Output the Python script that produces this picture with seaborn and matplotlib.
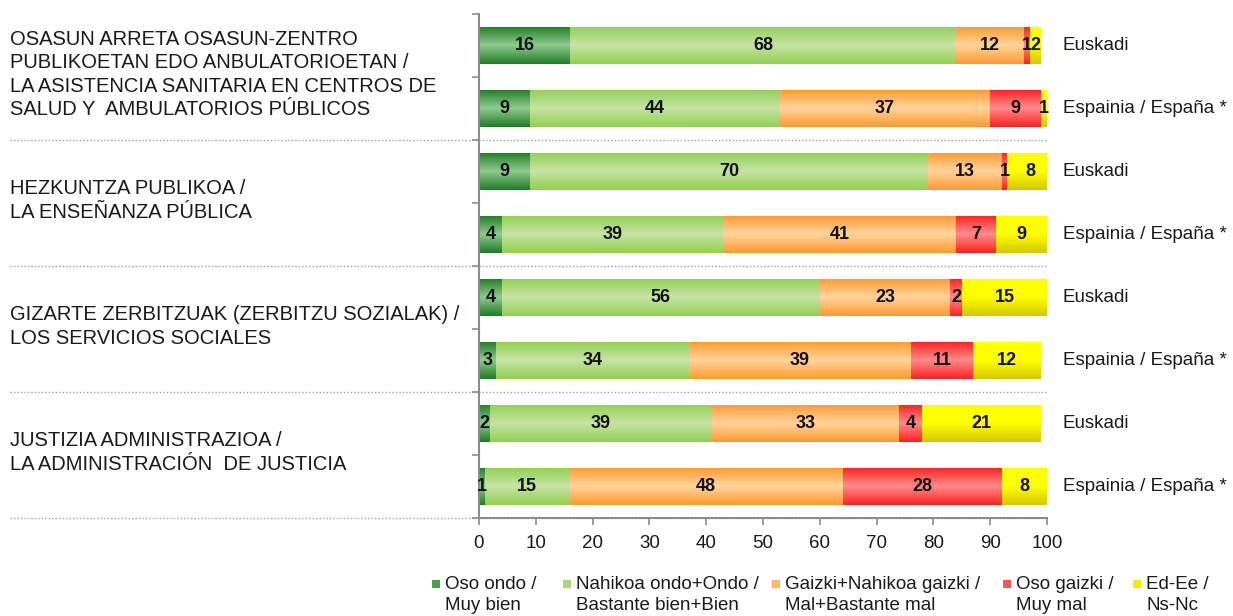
import numpy as np
import pandas as pd
import seaborn as sns
import matplotlib.pyplot as plt
from matplotlib.colors import LinearSegmentedColormap
from matplotlib.patches import Rectangle

# data (percent)
groups = [
    "OSASUN ARRETA OSASUN-ZENTRO\nPUBLIKOETAN EDO ANBULATORIOETAN /\nLA ASISTENCIA SANITARIA EN CENTROS DE\nSALUD Y  AMBULATORIOS PÚBLICOS",
    "HEZKUNTZA PUBLIKOA /\nLA ENSEÑANZA PÚBLICA",
    "GIZARTE ZERBITZUAK (ZERBITZU SOZIALAK) /\nLOS SERVICIOS SOCIALES",
    "JUSTIZIA ADMINISTRAZIOA /\nLA ADMINISTRACIÓN  DE JUSTICIA",
]
regions = ["Euskadi", "Espainia / España *"]

oso_ondo = [16, 9, 9, 4, 4, 3, 2, 1]
nahikoa_ondo = [68, 44, 70, 39, 56, 34, 39, 15]
gaizki = [12, 37, 13, 41, 23, 39, 33, 48]
oso_gaizki = [1, 9, 1, 7, 2, 11, 4, 28]
ns_nc = [2, 1, 8, 9, 15, 12, 21, 8]

series_names = ["Oso ondo /\nMuy bien", "Nahikoa ondo+Ondo /\nBastante bien+Bien",
                "Gaizki+Nahikoa gaizki /\nMal+Bastante mal", "Oso gaizki /\nMuy mal",
                "Ed-Ee /\nNs-Nc"]

# gradient colours (edge -> centre -> edge)
grad_cols = [["#1f7d25", "#8fcb8f", "#1f7d25"],
             ["#92d050", "#c6e3a5", "#92d050"],
             ["#ff9a30", "#ffd49c", "#ff9a30"],
             ["#ff1f1f", "#ff8c8c", "#ff1f1f"],
             ["#ffff00", "#ffff00", "#d4c800"]]
mid_cols = ["#4a9f4a", "#a9d97a", "#ffb868", "#ff5555", "#eeee00"]

sns.set_style("white")
plt.rcParams['font.family'] = ['Liberation Sans', 'DejaVu Sans']

values = np.array([oso_ondo, nahikoa_ondo, gaizki, oso_gaizki, ns_nc])
cum = np.cumsum(values, axis=0)
rows = [str(i) for i in range(len(oso_ondo))]
df = pd.DataFrame({"row": rows})

W, H = 1233, 616
fig = plt.figure(figsize=(W / 100, H / 100), dpi=100)
ax = fig.add_axes([479 / W, 1 - 518 / H, (1047 - 479) / W, (518 - 14) / H])

grad = np.linspace(0, 1, 64).reshape(-1, 1)
for k in reversed(range(5)):
    df["cum"] = cum[k]
    n0 = len(ax.patches)
    sns.barplot(data=df, x="cum", y="row", orient="h", color=mid_cols[k],
                saturation=1, width=0.59, errorbar=None, ax=ax)
    cmap = LinearSegmentedColormap.from_list("g%d" % k, grad_cols[k])
    for p in ax.patches[n0:]:
        x0, y0, w, h = p.get_x(), p.get_y(), p.get_width(), p.get_height()
        im = ax.imshow(grad, cmap=cmap, extent=(x0, x0 + w, y0 + h, y0),
                       aspect='auto', interpolation='bilinear', zorder=2 + (4 - k) * 0.1)
        # clip to the bar and keep the axes clip box
        im.set_clip_path(p.get_path(), p.get_transform())

# value labels
for k in range(5):
    for i in range(len(rows)):
        v = values[k][i]
        ax.text(cum[k][i] - v / 2, i, str(v), ha='center', va='center',
                fontsize=13, fontweight='bold', zorder=5, color="#111111")

ax.set_xticks(range(0, 101, 10))
ax.set_yticks(np.arange(-0.5, 8, 1))
ax.set_yticklabels([])
ax.set_xlabel("")
ax.set_ylabel("")
for s in ["top", "right"]:
    ax.spines[s].set_visible(False)
for s in ["left", "bottom"]:
    ax.spines[s].set_color("#8c8c8c")
    ax.spines[s].set_linewidth(1.5)
ax.tick_params(axis='both', bottom=True, left=True, direction='out', length=5,
               width=1.2, color="#8c8c8c", labelsize=13.5, pad=7, labelcolor="#1a1a1a")

# region labels on the right
for i in range(len(rows)):
    ax.text(1.028, i, regions[i % 2], transform=ax.get_yaxis_transform(),
            ha='left', va='center', fontsize=13.5, color="#1a1a1a")

# group labels on the left
for g, txt in enumerate(groups):
    ax.text(-0.826, 2 * g + 0.46, txt, transform=ax.get_yaxis_transform(),
            ha='left', va='center', fontsize=14.5, linespacing=1.3, color="#1a1a1a")

# dotted separators
for yb in [1.5, 3.5, 5.5, 7.5]:
    ax.plot([-0.826, 1.0], [yb, yb], transform=ax.get_yaxis_transform(), clip_on=False,
            color="#a0a0a0", lw=1, ls=(0, (1, 1.5)), zorder=0.5)
ax.set_xlim(0, 100)
ax.set_ylim(7.5, -0.5)

# legend
mark_x = [432, 563, 772, 1003, 1133]
for k in range(5):
    fig.add_artist(Rectangle((mark_x[k] / W, 1 - 588 / H), 8 / W, 8 / H,
                             transform=fig.transFigure, facecolor=mid_cols[k], edgecolor='none'))
    fig.text((mark_x[k] + 13) / W, 1 - 576 / H, series_names[k], ha='left', va='top',
             fontsize=13.5, linespacing=1.3, color="#1a1a1a")

fig.savefig("out.png", dpi=100, facecolor="white")
